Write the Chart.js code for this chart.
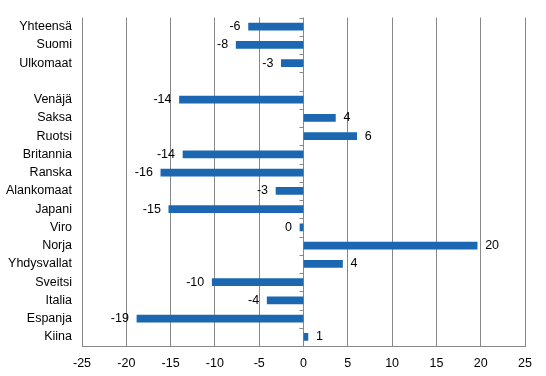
<!DOCTYPE html>
<html>
<head>
<meta charset="utf-8">
<script src="https://cdn.jsdelivr.net/npm/chart.js"></script>
<style>
  html, body { margin: 0; padding: 0; background: #fff; }
  #wrap { width: 546px; height: 376px; }
</style>
</head>
<body>
<div id="wrap"><canvas id="myChart" width="546" height="376"></canvas></div>
<script>
// categories, top to bottom ('' = empty spacer row)
const categories = ['Yhteensä', 'Suomi', 'Ulkomaat', '', 'Venäjä', 'Saksa', 'Ruotsi', 'Britannia', 'Ranska',
  'Alankomaat', 'Japani', 'Viro', 'Norja', 'Yhdysvallat', 'Sveitsi', 'Italia', 'Espanja', 'Kiina']
// change values
const changes = [-6.2, -7.6, -2.5, null, -14.0, 3.6, 6.0, -13.6, -16.1,
  -3.1, -15.2, -0.4, 19.6, 4.4, -10.3, -4.1, -18.8, 0.5]
// rounded labels printed next to the bars
const valueLabels = ['-6', '-8', '-3', '', '-14', '4', '6', '-14', '-16',
  '-3', '-15', '0', '20', '4', '-10', '-4', '-19', '1']
const xTicks = [-25, -20, -15, -10, -5, 0, 5, 10, 15, 20, 25]

const FONT = { family: 'Arial, "Liberation Sans", sans-serif', size: 12.5 }
const GRID = '#888888'

// value labels at bar ends
const barLabels = {
  id: 'barLabels',
  afterDatasetsDraw (chart) {
    const { ctx } = chart
    const meta = chart.getDatasetMeta(0)
    ctx.save()
    ctx.font = FONT.size + 'px ' + FONT.family
    ctx.fillStyle = '#000'
    ctx.textBaseline = 'middle'
    meta.data.forEach((bar, i) => {
      const v = changes[i]
      if (v === null) return
      if (v < 0) {
        ctx.textAlign = 'right'
        ctx.fillText(valueLabels[i], bar.x - 8, bar.y)
      } else {
        ctx.textAlign = 'left'
        ctx.fillText(valueLabels[i], bar.x + 8, bar.y)
      }
    })
    ctx.restore()
  }
}

// small category tick marks on the zero line
const zeroTicks = {
  id: 'zeroTicks',
  afterDatasetsDraw (chart) {
    const { ctx, scales: { x, y } } = chart
    const x0 = x.getPixelForValue(0)
    const step = y.getPixelForValue(1) - y.getPixelForValue(0)
    ctx.save()
    ctx.strokeStyle = GRID
    ctx.lineWidth = 1
    ctx.beginPath()
    for (let i = 0; i <= categories.length; i++) {
      const yy = Math.round(y.getPixelForValue(0) - step / 2 + i * step) + 0.5
      ctx.moveTo(x0 - 4, yy)
      ctx.lineTo(x0, yy)
    }
    ctx.stroke()
    ctx.restore()
  }
}

const config = {
  type: 'bar',
  data: {
    labels: categories,
    datasets: [{
      data: changes,
      backgroundColor: '#1b67b1',
      barThickness: 7
    }]
  },
  options: {
    indexAxis: 'y',
    responsive: false,
    animation: false,
    layout: { padding: { left: 0, right: 21, top: 12, bottom: 0 } },
    plugins: { legend: { display: false }, tooltip: { enabled: false } },
    scales: {
      x: {
        min: -25,
        max: 25,
        afterBuildTicks: scale => { scale.ticks = xTicks.map(v => ({ value: v })) },
        afterFit: scale => { scale.height = 30 },
        grid: { color: GRID, lineWidth: 1, drawTicks: false },
        border: { display: true, color: GRID },
        ticks: { color: '#000', font: FONT, padding: 10 }
      },
      y: {
        afterFit: scale => { scale.width = 82 },
        grid: { display: false, drawTicks: false },
        border: { display: false },
        ticks: { color: '#000', font: FONT, padding: 10, autoSkip: false }
      }
    }
  },
  plugins: [barLabels, zeroTicks]
}

new Chart(document.getElementById('myChart').getContext('2d'), config)
</script>
</body>
</html>
